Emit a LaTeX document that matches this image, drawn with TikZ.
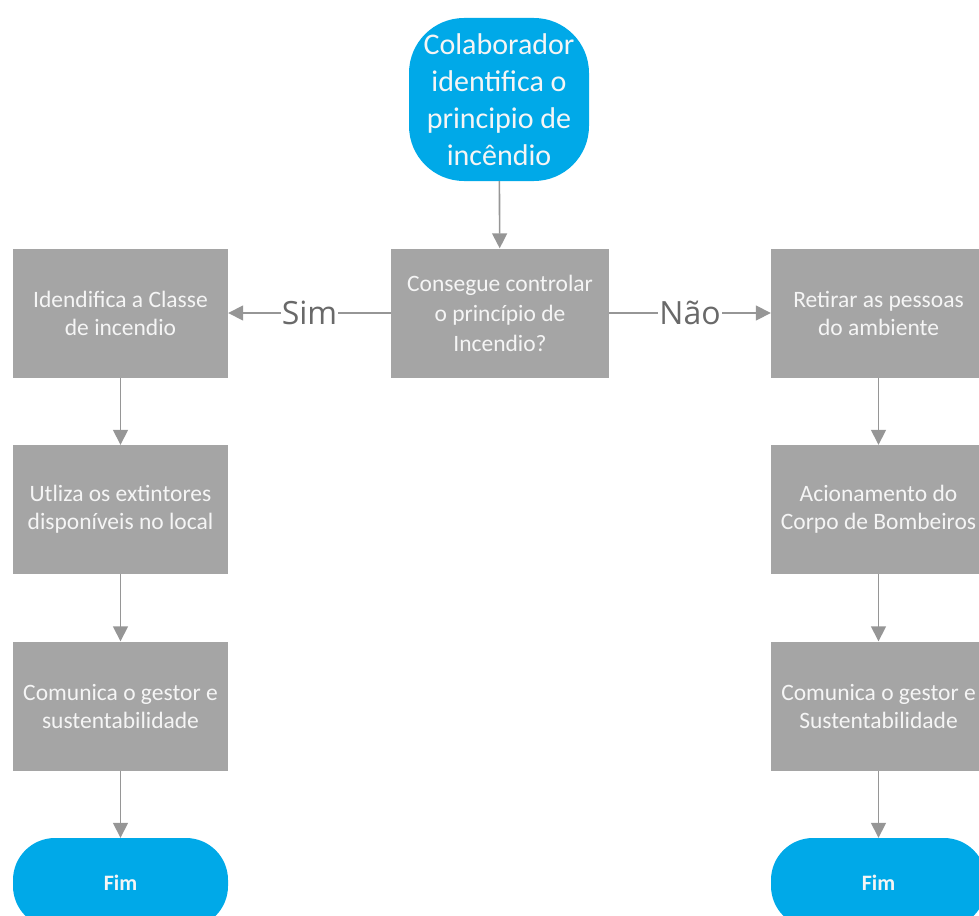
\documentclass[tikz,border=0pt]{standalone}
\usepackage{fontspec}
\setmainfont{Carlito}
\newfontfamily\labfont{Open Sans}
\usetikzlibrary{arrows.meta}
\definecolor{bluebox}{RGB}{0,169,232}
\definecolor{graybox}{RGB}{165,165,165}
\definecolor{arrowgray}{RGB}{150,150,150}
\definecolor{labgray}{RGB}{105,105,105}
\definecolor{boxtext}{RGB}{245,245,245}
\begin{document}
\begin{tikzpicture}[x=1pt,y=-1pt,
  procbox/.style={rectangle, fill=graybox, minimum width=215pt, minimum height=129pt,
    align=center, text=boxtext, font=\fontsize{23.5}{28}\selectfont, inner sep=0pt},
  termbox/.style={rectangle, rounded corners=42pt, fill=bluebox, minimum width=215pt,
    minimum height=90pt, align=center, text=boxtext, font=\bfseries\fontsize{22}{24}\selectfont, inner sep=0pt},
  startbox/.style={rectangle, rounded corners=55pt, fill=bluebox, minimum width=180pt,
    minimum height=163pt, align=center, text=boxtext, font=\fontsize{30}{37}\selectfont, inner sep=0pt},
  conn/.style={draw=arrowgray, line width=1.6pt, -{Triangle[length=15pt,width=15pt]}},
  lab/.style={fill=white, text=labgray, font=\labfont\fontsize{32}{34}\selectfont, inner xsep=1pt, inner ysep=0pt}
]
\useasboundingbox (0,0) rectangle (979,915);
\clip (0,0) rectangle (979,915);

\node[startbox] (start) at (499,99.5) {Colaborador\\identifica o\\principio de\\incêndio};
\node[procbox, minimum width=218pt, font=\fontsize{23.5}{30}\selectfont] (dec) at (500,313) {Consegue controlar\\o princípio de\\Incendio?};

\node[procbox] (l1) at (120.5,313) {Idendifica a Classe\\de incendio};
\node[procbox] (l2) at (120.5,509.5) {Utliza os extintores\\disponíveis no local};
\node[procbox] (l3) at (120.5,706) {Comunica o gestor e\\sustentabilidade};
\node[termbox] (lend) at (120.5,883) {Fim};

\node[procbox] (r1) at (878.5,313) {Retirar as pessoas\\do ambiente};
\node[procbox] (r2) at (878.5,509.5) {Acionamento do\\Corpo de Bombeiros};
\node[procbox] (r3) at (878.5,706) {Comunica o gestor e\\Sustentabilidade};
\node[termbox] (rend) at (878.5,883) {Fim};

\draw[conn] (start) -- (dec);
\draw[conn] (dec) -- node[lab] {Sim} (l1);
\draw[conn] (dec) -- node[lab] {Não} (r1);
\draw[conn] (l1) -- (l2);
\draw[conn] (l2) -- (l3);
\draw[conn] (l3) -- (lend);
\draw[conn] (r1) -- (r2);
\draw[conn] (r2) -- (r3);
\draw[conn] (r3) -- (rend);
\end{tikzpicture}
\end{document}
